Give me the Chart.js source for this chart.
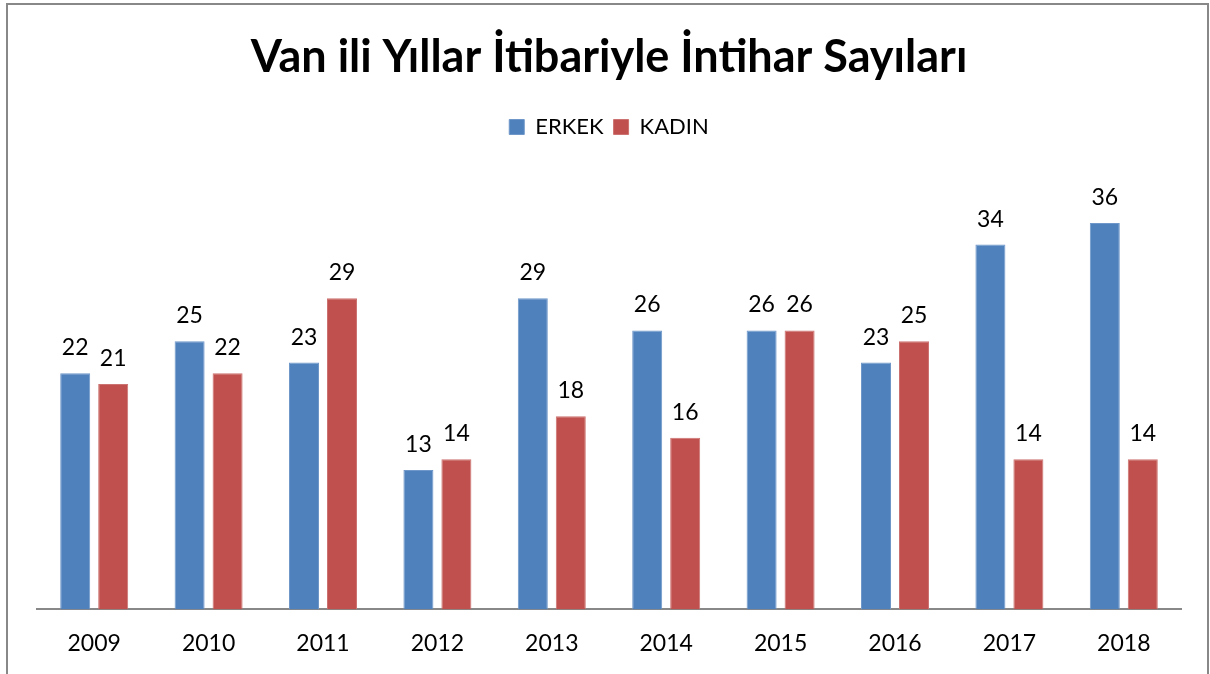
<!DOCTYPE html>
<html>
<head>
<meta charset="utf-8">
<script src="https://cdn.jsdelivr.net/npm/chart.js@4.4.0/dist/chart.umd.min.js"></script>
<style>
html,body{margin:0;padding:0;background:#fff;overflow:hidden;}
#wrap{position:absolute;left:0;top:0;width:1210px;height:674px;}
#frame{position:absolute;left:6px;top:3px;width:1203px;height:720px;border:2px solid #888;box-sizing:border-box;}
</style>
</head>
<body>
<div id="frame"></div>
<div id="wrap"><canvas id="c" width="1210" height="674"></canvas></div>
<script>
const categories = ["2009","2010","2011","2012","2013","2014","2015","2016","2017","2018"];
const erkek = [22,25,23,13,29,26,26,23,34,36];
const kadin = [21,22,29,14,18,16,26,25,14,14];
const seriesNames = ["ERKEK","KADIN"];
const titleText = "Van ili Yıllar İtibariyle İntihar Sayıları";

const FONT = "Lato, 'Open Sans', sans-serif";

const valueLabels = {
  id: 'valueLabels',
  afterDatasetsDraw(chart) {
    const ctx = chart.ctx;
    ctx.save();
    ctx.font = "23px " + FONT;
    ctx.fillStyle = "#000";
    ctx.textAlign = "center";
    ctx.textBaseline = "alphabetic";
    chart.data.datasets.forEach((ds, i) => {
      const meta = chart.getDatasetMeta(i);
      meta.data.forEach((bar, j) => {
        ctx.fillText(ds.data[j], bar.x, bar.y - 18);
      });
    });
    ctx.restore();
  }
};

new Chart(document.getElementById('c'), {
  type: 'bar',
  data: {
    labels: categories,
    datasets: [
      {label: seriesNames[0], data: erkek, backgroundColor: '#4F81BD', borderColor: '#6f97c9', borderWidth: 1,
       categoryPercentage: 0.664, barPercentage: 0.79},
      {label: seriesNames[1], data: kadin, backgroundColor: '#C0504D', borderColor: '#cc7270', borderWidth: 1,
       categoryPercentage: 0.664, barPercentage: 0.79}
    ]
  },
  options: {
    responsive: false,
    animation: false,
    devicePixelRatio: 1,
    layout: {padding: {left: 37, right: 29, top: 0, bottom: -3}},
    plugins: {
      title: {display: true, text: titleText, color: '#000',
        font: {family: FONT, size: 45, weight: 'bold'}, padding: {top: 30, bottom: 22}},
      legend: {display: true, position: 'top',
        labels: {color: '#000', font: {family: FONT, size: 22}, boxWidth: 15, boxHeight: 15, padding: 10}},
      tooltip: {enabled: false}
    },
    scales: {
      x: {grid: {display: false, drawTicks: false}, border: {display: true, color: '#888', width: 2},
        ticks: {color: '#000', font: {family: FONT, size: 23}, padding: 20}},
      y: {display: false, min: 0, max: 43}
    }
  },
  plugins: [valueLabels]
});
</script>
</body>
</html>
